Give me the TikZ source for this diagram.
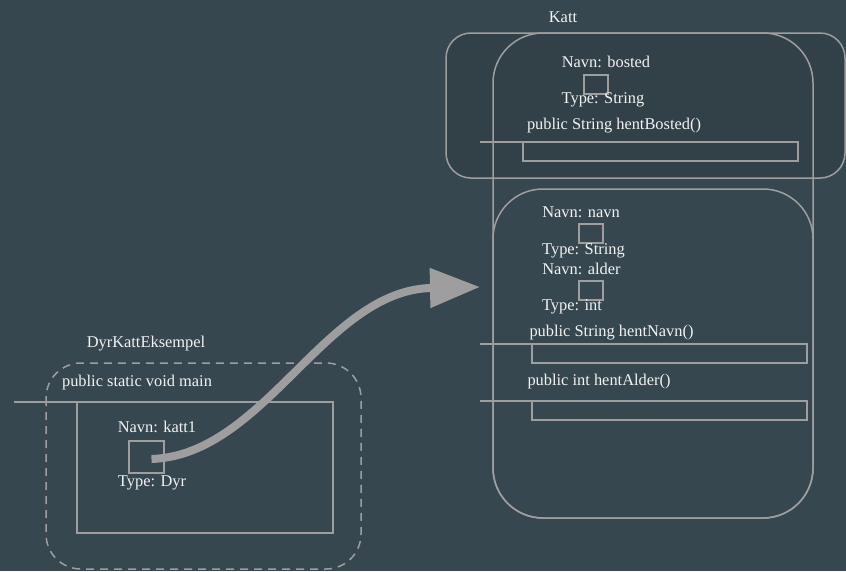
\documentclass[tikz,border=0pt]{standalone}
\usepackage{fontspec}
\setmainfont{Liberation Serif}
\usetikzlibrary{arrows.meta,positioning}
\definecolor{bg}{HTML}{37474F}
\definecolor{edge}{HTML}{9E9E9E}
\definecolor{ink}{HTML}{F2F2F2}
\begin{document}
\begin{tikzpicture}[x=1pt,y=-1pt,
  every node/.style={inner sep=0pt,outer sep=0pt},
  lbl/.style={text=ink,font=\fontsize{16.4}{18}\selectfont},
  slot/.style={draw=edge,line width=1.5pt,anchor=north west},
  frame/.style={draw=edge,line width=1.5pt},
  stub/.style={draw=edge,line width=1.5pt}]
\fill[bg] (0,0) rectangle (846,571);
\useasboundingbox (0,0) rectangle (846,571);

% Katt: static part (darker panel) and object outline
\draw[frame,fill=black,fill opacity=0.08,rounded corners=25pt] (446,33) rectangle (845,178);
\draw[frame,rounded corners=50pt] (493,33) rectangle (813,518);
\draw[frame,rounded corners=50pt] (493,189) rectangle (813,518);
\node[lbl] (katt) at (563,17) {Katt};

% field: bosted
\node[lbl] (nbosted) at (606,62) {Navn: bosted};
\node[slot,minimum width=24pt,minimum height=19pt] (vbosted) at (584,75) {};
\node[lbl] (tbosted) at (603,100) {Type: String};

% method: hentBosted
\node[lbl] (mbosted) at (614,126) {public String hentBosted()};
\node[slot,minimum width=275pt,minimum height=19pt] (rbosted) at (523,142) {};
\coordinate (sb1) at (480,142);
\coordinate (sb2) at (580,142);
\draw[stub] (sb1) -- (sb2);

% field: navn
\node[lbl] (nnavn) at (581,212) {Navn: navn};
\node[slot,minimum width=24pt,minimum height=19pt] (vnavn) at (579,224) {};
\node[lbl] (tnavn) at (583.5,251) {Type: String};

% field: alder
\node[lbl] (nalder) at (581.5,269) {Navn: alder};
\node[slot,minimum width=24pt,minimum height=19pt] (valder) at (579,281) {};
\node[lbl] (talder) at (572,307) {Type: int};

% method: hentNavn
\node[lbl] (mnavn) at (611.5,333) {public String hentNavn()};
\node[slot,minimum width=275pt,minimum height=19pt] (rnavn) at (532,344) {};
\coordinate (sn1) at (480,344);
\coordinate (sn2) at (580,344);
\draw[stub] (sn1) -- (sn2);

% method: hentAlder
\node[lbl] (malder) at (599,382) {public int hentAlder()};
\node[slot,minimum width=275pt,minimum height=19pt] (ralder) at (532,401) {};
\coordinate (sa1) at (480,401);
\coordinate (sa2) at (580,401);
\draw[stub] (sa1) -- (sa2);

% DyrKattEksempel with main
\node[lbl] (dke) at (146,344) {DyrKattEksempel};
\draw[frame,dashed,dash pattern=on 8pt off 6pt,rounded corners=35pt] (46,363) rectangle (361,569);
\node[lbl] (mainlbl) at (137,383) {public static void main};
\node[slot,minimum width=256pt,minimum height=131pt] (mainbox) at (77,402) {};
\coordinate (sm1) at (14,402);
\coordinate (sm2) at (113,402);
\draw[stub] (sm1) -- (sm2);

% local variable katt1
\node[lbl] (nkatt1) at (157,427) {Navn: katt1};
\node[slot,minimum width=35pt,minimum height=32pt] (vkatt1) at (129,441) {};
\node[lbl] (tkatt1) at (152,483) {Type: Dyr};

% reference from katt1 to the Katt object
\coordinate (target) at (480,287);
\draw[edge,line width=8pt,-{Triangle[length=50pt,width=38pt]}]
  ([xshift=5pt,yshift=-2pt]vkatt1.center) .. controls (265,455) and (325,290) .. (target);
\end{tikzpicture}
\end{document}
